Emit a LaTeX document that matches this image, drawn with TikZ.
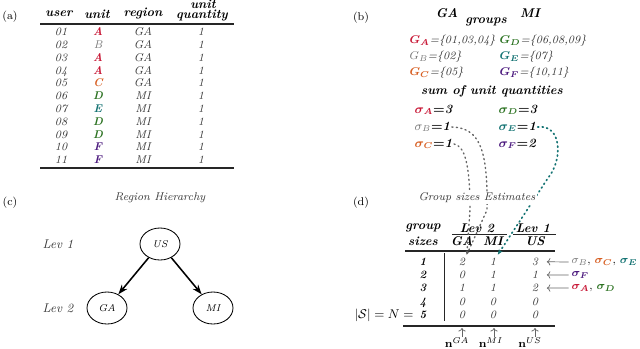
\documentclass[tikz,border=0pt]{standalone}
\usepackage{tikz}
\usetikzlibrary{positioning, arrows.meta, shapes.geometric}
\usepackage{amsmath,amssymb}

\definecolor{colA}{RGB}{200,25,55}
\definecolor{colB}{RGB}{115,115,115}
\definecolor{colC}{RGB}{215,95,35}
\definecolor{colD}{RGB}{45,115,35}
\definecolor{colE}{RGB}{20,115,115}
\definecolor{colF}{RGB}{75,25,125}
\definecolor{txt}{RGB}{55,55,55}

\newcommand{\bsig}[2]{{\color{#1}\boldmath$\sigma_{#2}$}}
\newcommand{\nsig}[2]{{\color{#1}$\sigma_{#2}$}}
\newcommand{\sval}[1]{{\boldmath$=$}\textbf{\textit{#1}}}
\newcommand{\bgrp}[2]{{\color{#1}\boldmath$G_{#2}$}}
\newcommand{\ngrp}[2]{{\color{#1}$G_{#2}$}}

\begin{document}
\begin{tikzpicture}[x=0.025cm, y=-0.025cm,
  panel/.style={font=\footnotesize, inner sep=1pt},
  hdr/.style={font=\small\bfseries\itshape, inner sep=1pt},
  cell/.style={font=\footnotesize\itshape, text=txt, inner sep=1pt,
               text height=1.5ex, text depth=.25ex},
  note/.style={font=\footnotesize\itshape, text=txt, inner sep=1pt},
  sumtxt/.style={font=\small, inner sep=1pt, anchor=west},
  bar/.style={line width=1pt, black!85},
  hairline/.style={line width=0.5pt, black!85},
  region/.style={draw, ellipse, minimum width=1.0cm, minimum height=0.8cm,
                 font=\scriptsize\itshape, line width=0.6pt},
  harr/.style={-{Stealth[length=7pt, width=5pt]}, line width=1.1pt},
  gdots/.style={dash pattern=on 0.8pt off 2.4pt, line cap=round, line width=1pt, black!60,
                -{Stealth[length=2.5pt]}},
  tdots/.style={dash pattern=on 0.8pt off 2.4pt, line cap=round, line width=1.2pt, colE,
                -{Stealth[length=4pt]}},
  sarr/.style={-{To[length=2.5pt]}, line width=0.5pt, black!60},
]
\useasboundingbox (0,0) rectangle (640,349);

% ---------- (a) unit table ----------
\node[panel] (pa) at (10,17) {(a)};
\node[hdr] (hUser) at (59,14) {user};
\node[hdr] (hUnit) at (97,14) {unit};
\node[hdr] (hRegion) at (143,14) {region};
\node[hdr, inner sep=0pt] (hQty1) at (203,4) {unit};
\node[hdr, inner sep=0pt] (hQty2) at (202,16) {quantity};
\draw[bar] (40,24) -- (234,24);
\foreach \usr/\u/\reg/\c/\f [count=\i] in {01/A/GA/colA/\bfseries, 02/B/GA/colB/\mdseries,
    03/A/GA/colA/\bfseries, 04/A/GA/colA/\bfseries, 05/C/GA/colC/\bfseries,
    06/D/MI/colD/\bfseries, 07/E/MI/colE/\bfseries, 08/D/MI/colD/\bfseries,
    09/D/MI/colD/\bfseries, 10/F/MI/colF/\bfseries, 11/F/MI/colF/\bfseries}{
  \node[cell] (usr\i) at (61,18.9+12.83*\i) {\usr};
  \node[cell, text=\c, font=\footnotesize\itshape\f] (unit\i) at (98,18.9+12.83*\i) {\u};
  \node[cell] (reg\i) at (143,18.9+12.83*\i) {\reg};
  \node[cell] (qty\i) at (201,18.9+12.83*\i) {1};
}
\draw[bar] (40,168) -- (234,168);

% ---------- (b) groups and sums ----------
\node[panel] (pb) at (361,18) {(b)};
\node[hdr] (bGA) at (447,13) {GA};
\node[hdr] (bMI) at (530,13) {MI};
\node[hdr] (groups) at (486,22) {groups};
\node[cell, anchor=west] (gA) at (408,40) {\bgrp{colA}{A}=\{01,03,04\}};
\node[cell, anchor=west] (gB) at (408,56) {\ngrp{colB}{B}=\{02\}};
\node[cell, anchor=west] (gC) at (408,72) {\bgrp{colC}{C}=\{05\}};
\node[cell, anchor=west] (gD) at (498,40) {\bgrp{colD}{D}=\{06,08,09\}};
\node[cell, anchor=west] (gE) at (498,56) {\bgrp{colE}{E}=\{07\}};
\node[cell, anchor=west] (gF) at (498,72) {\bgrp{colF}{F}=\{10,11\}};
\node[hdr] (sumq) at (492,91) {sum of unit quantities};
\node[sumtxt] (sgA) at (413,110) {\bsig{colA}{A}\sval{3}};
\node[sumtxt] (sgB) at (413,127) {\nsig{colB}{B}\sval{1}};
\node[sumtxt] (sgC) at (413,144) {\bsig{colC}{C}\sval{1}};
\node[sumtxt] (sgD) at (497,110) {\bsig{colD}{D}\sval{3}};
\node[sumtxt] (sgE) at (497,127) {\bsig{colE}{E}\sval{1}};
\node[sumtxt] (sgF) at (497,144) {\bsig{colF}{F}\sval{2}};

% ---------- (c) region hierarchy ----------
\node[panel] (pc) at (10,203) {(c)};
\node[note] (rh) at (160,198) {Region Hierarchy};
\node[note, font=\small\itshape] (lev1) at (58,244) {Lev 1};
\node[note, font=\small\itshape] (lev2) at (58,308) {Lev 2};
\node[region] (us) at (160,244) {US};
\node[region] (ga) at (107,308) {GA};
\node[region] (mi) at (213,308) {MI};
\draw[harr] (us) -- (ga);
\draw[harr] (us) -- (mi);

% ---------- (d) group sizes table ----------
\node[panel] (pd) at (361,203) {(d)};
\node[hdr] (dGroup) at (423,228) {group};
\node[hdr] (dSizes) at (423,241) {sizes};
\node[hdr] (dLev2) at (477,228) {Lev 2};
\node[hdr] (dLev1) at (533,228) {Lev 1};
\node[hdr] (dGA) at (462,241) {GA};
\node[hdr] (dMI) at (493,241) {MI};
\node[hdr] (dUS) at (535,241) {US};
\draw[hairline] (452,234) -- (507,234);
\draw[hairline] (513,234) -- (556,234);
\draw[bar] (405,251) -- (555,251);
\foreach \g/\m/\s [count=\i] in {2/1/3, 0/1/1, 1/1/2, 0/0/0, 0/0/0}{
  \node[cell, font=\footnotesize\bfseries\itshape, text=black] (sz\i) at (423,248.5+13.2*\i) {\i};
  \node[cell] (ga\i) at (462,248.5+13.2*\i) {\g};
  \node[cell] (mi\i) at (493,248.5+13.2*\i) {\m};
  \node[cell] (us\i) at (535,248.5+13.2*\i) {\s};
}
\draw[hairline] (444,253) -- (444,321);
\draw[bar] (403,326) -- (555,326);
\node[panel, font=\small, anchor=base east, inner sep=0pt] (bigN) at ([xshift=-3pt]sz5.base west) {$|\mathcal{S}| = N =$};

% estimates pointing at the US column
\node[panel, anchor=west] (est1) at (570,262) {\nsig{colB}{B}$,$ \bsig{colC}{C}$,$ \bsig{colE}{E}};
\node[panel, anchor=west] (est2) at (570,275) {\bsig{colF}{F}};
\node[panel, anchor=west] (est3) at (570,288) {\bsig{colA}{A}$,$ \bsig{colD}{D}};
\draw[sarr, shorten <=1pt, shorten >=5pt] (est1.west) -- (us1.east);
\draw[sarr, shorten <=1pt, shorten >=5pt] (est2.west) -- (us2.east);
\draw[sarr, shorten <=1pt, shorten >=5pt] (est3.west) -- (us3.east);

% count vectors under the columns
\node[panel, anchor=north, inner sep=0pt] (nGA) at (457,337) {$\mathbf{n}^{GA}$};
\node[panel, anchor=north, inner sep=0pt] (nMI) at (491,337) {$\mathbf{n}^{MI}$};
\node[panel, anchor=north, inner sep=0pt] (nUS) at (530,337) {$\mathbf{n}^{US}$};
\coordinate (cGA) at (462,328);
\coordinate (cMI) at (494,328);
\coordinate (cUS) at (535,328);
\draw[sarr] (cGA |- nGA.north) -- (cGA);
\draw[sarr] (cMI |- nMI.north) -- (cMI);
\draw[sarr] (cUS |- nUS.north) -- (cUS);

% ---------- dotted links from sums to sizes ----------
\draw[gdots] (sgB.east) .. controls (480,128) and (488,150) .. (487,210) -- (ga1.north east);
\draw[gdots] (sgC.east) .. controls (465,146) and (470,165) .. (470,210) -- (ga1.north east);
\draw[tdots] (sgE.east) .. controls (562,124) and (563,160) .. (548,178) -- (mi1.north east);
\node[note, fill=white] (gse) at (477,198) {Group sizes Estimates};

\end{tikzpicture}
\end{document}
